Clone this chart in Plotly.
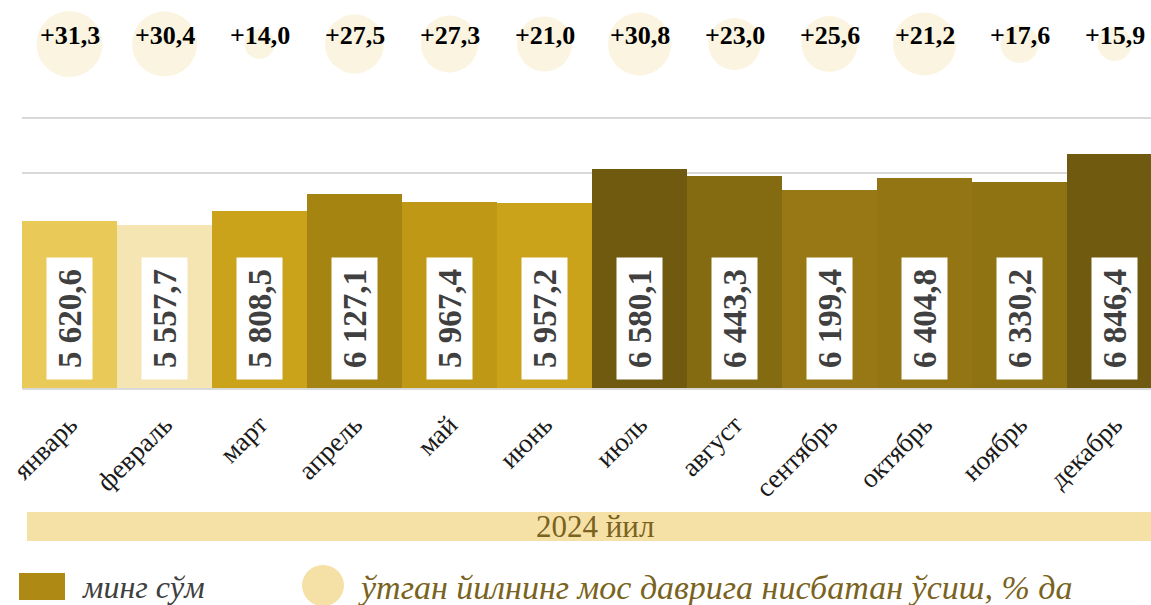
import plotly.graph_objects as go

# ---- data ----
months = ["январь", "февраль", "март", "апрель", "май", "июнь",
          "июль", "август", "сентябрь", "октябрь", "ноябрь", "декабрь"]
wage = [5620.6, 5557.7, 5808.5, 6127.1, 5967.4, 5957.2,
        6580.1, 6443.3, 6199.4, 6404.8, 6330.2, 6846.4]
growth = [31.3, 30.4, 14.0, 27.5, 27.3, 21.0, 30.8, 23.0, 25.6, 21.2, 17.6, 15.9]
year_label = "2024 йил"
legend_bar = "минг сўм"
legend_bubble = "ўтган йилнинг мос даврига нисбатан ўсиш, % да"

# ---- styles ----
bar_colors = ["#E9C957", "#F4E5B2", "#CBA31A", "#A58411", "#BF9815", "#CBA31A",
              "#6F5A10", "#846A10", "#977814", "#937613", "#8F7211", "#6F5A10"]
bubble_px = [66, 65, 30, 59, 57, 55, 63, 52, 56, 63, 38, 34]
SERIF = "Liberation Serif"

W, H = 1151, 605
L = 22


def px2x(px):
    return (px - L) / (W - L)


def py2y(py):
    return 1 - py / H


def fmt_val(v):
    return f"{v:,.1f}".replace(",", " ").replace(".", ",")


def fmt_growth(v):
    return "+" + f"{v:.1f}".replace(".", ",")


x = list(range(len(months)))

fig = go.Figure()

fig.add_trace(go.Bar(
    x=x, y=wage, marker=dict(color=bar_colors, line=dict(width=0)),
    width=1.0, showlegend=False, hoverinfo="y",
))

fig.add_trace(go.Scatter(
    x=x, y=[0] * len(x), yaxis="y2", mode="markers",
    marker=dict(size=bubble_px, color="#FAF0D4", line=dict(width=0)),
    showlegend=False, hoverinfo="text", text=[fmt_growth(g) for g in growth],
))

annotations = []
# growth labels
for i, g in enumerate(growth):
    annotations.append(dict(
        x=i, y=0, xref="x", yref="y2", yshift=9, text="<b>" + fmt_growth(g) + "</b>",
        showarrow=False, font=dict(family=SERIF, size=26, color="#000000"),
        xanchor="center", yanchor="middle"))
# value boxes
for i, v in enumerate(wage):
    annotations.append(dict(
        x=i, y=py2y(318.5), xref="x", yref="paper", text="<b>" + fmt_val(v) + "</b>",
        showarrow=False, textangle=-90, bgcolor="#FFFFFF", width=121, height=45,
        font=dict(family=SERIF, size=33, color="#404040"),
        xanchor="center", yanchor="middle", borderpad=0))

# year label
annotations.append(dict(
    x=px2x(595), y=py2y(526), xref="paper", yref="paper", text=year_label,
    showarrow=False, font=dict(family=SERIF, size=31, color="#7A6220"),
    xanchor="center", yanchor="middle"))
# legend texts
annotations.append(dict(
    x=px2x(80), y=py2y(587), xref="paper", yref="paper", text="<i>" + legend_bar + "</i>",
    showarrow=False, font=dict(family=SERIF, size=32, color="#404040"),
    xanchor="left", yanchor="middle"))
annotations.append(dict(
    x=px2x(356), y=py2y(587), xref="paper", yref="paper", text="<i>" + legend_bubble + "</i>",
    showarrow=False, font=dict(family=SERIF, size=34, color="#7A6220"),
    xanchor="left", yanchor="middle"))

shapes = [
    dict(type="rect", xref="paper", yref="paper", x0=px2x(27), x1=px2x(W), y0=py2y(541), y1=py2y(512),
         fillcolor="#F5E1A5", line=dict(width=0), layer="below"),
    dict(type="rect", xref="paper", yref="paper", x0=px2x(19), x1=px2x(65), y0=py2y(600), y1=py2y(573),
         fillcolor="#AE8A14", line=dict(width=0)),
    dict(type="circle", xref="paper", yref="paper", x0=px2x(302), x1=px2x(344), y0=py2y(606), y1=py2y(565),
         fillcolor="#F5E1A5", line=dict(width=0)),
]

span = (W - L) / 95.0
fig.update_layout(
    width=W, height=H,
    margin=dict(l=L, r=0, t=0, b=0),
    paper_bgcolor="#FFFFFF", plot_bgcolor="#FFFFFF",
    bargap=0,
    xaxis=dict(range=[-0.5, -0.5 + span], tickmode="array", tickvals=x, ticktext=months,
               tickangle=-45, tickfont=dict(family=SERIF, size=27, color="#1A1A1A"),
               showgrid=False, zeroline=False, showline=True, linecolor="#D9D9D9", linewidth=2,
               ticks="", ticklabelstandoff=8, fixedrange=True),
    yaxis=dict(domain=[py2y(388), py2y(100)],
               range=[6500 - 215 * 1000 / 55, 7500 + 18 * 1000 / 55],
               tick0=500, dtick=1000, showgrid=True, gridcolor="#D9D9D9", gridwidth=2,
               showticklabels=False, zeroline=False, fixedrange=True),
    yaxis2=dict(domain=[py2y(88), 1], range=[-1, 1], showgrid=False, zeroline=False,
                showticklabels=False, fixedrange=True),
    annotations=annotations,
    shapes=shapes,
    font=dict(family=SERIF),
)

fig.write_html("out.html", config={"displayModeBar": False},
               post_script="document.body.style.margin='0';document.body.style.overflow='hidden';")
